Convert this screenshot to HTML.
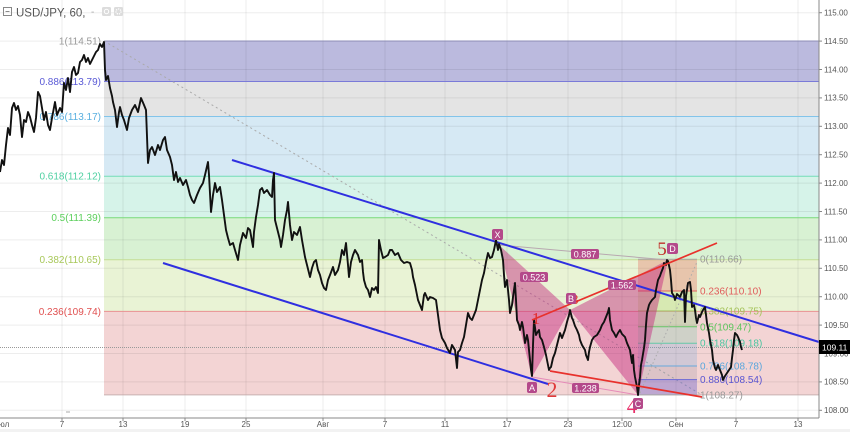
<!DOCTYPE html>
<html><head><meta charset="utf-8"><style>
html,body{margin:0;padding:0;background:#fff;}
svg{display:block;font-family:"Liberation Sans",sans-serif;}
</style></head><body>
<svg width="850" height="432" viewBox="0 0 850 432" xmlns="http://www.w3.org/2000/svg">
<rect x="0" y="0" width="850" height="432" fill="#fff"/>
<rect x="0" y="429" width="850" height="3" fill="#f2f2f2"/>
<!-- main fib bands -->
<rect x="104" y="41" width="715" height="40.5" fill="#bbbade"/>
<rect x="104" y="81.5" width="715" height="35" fill="#e4e4e4"/>
<rect x="104" y="116.5" width="715" height="59.7" fill="#d6e9f4"/>
<rect x="104" y="176.2" width="715" height="41.5" fill="#d6f3e9"/>
<rect x="104" y="217.7" width="715" height="42" fill="#d8f1d3"/>
<rect x="104" y="259.7" width="715" height="51.7" fill="#e9f3d5"/>
<rect x="104" y="311.4" width="715" height="83.5" fill="#f3d4d4"/>
<!-- grid -->
<g stroke="#000" stroke-opacity="0.07" stroke-width="1">
<line x1="62" y1="0" x2="62" y2="418"/><line x1="123" y1="0" x2="123" y2="418"/><line x1="185" y1="0" x2="185" y2="418"/><line x1="246" y1="0" x2="246" y2="418"/><line x1="323" y1="0" x2="323" y2="418"/><line x1="385" y1="0" x2="385" y2="418"/><line x1="445" y1="0" x2="445" y2="418"/><line x1="507" y1="0" x2="507" y2="418"/><line x1="568" y1="0" x2="568" y2="418"/><line x1="622" y1="0" x2="622" y2="418"/><line x1="676" y1="0" x2="676" y2="418"/><line x1="736" y1="0" x2="736" y2="418"/><line x1="798" y1="0" x2="798" y2="418"/>
<line x1="0" y1="12.7" x2="819" y2="12.7"/><line x1="0" y1="41.1" x2="819" y2="41.1"/><line x1="0" y1="69.5" x2="819" y2="69.5"/><line x1="0" y1="97.9" x2="819" y2="97.9"/><line x1="0" y1="126.3" x2="819" y2="126.3"/><line x1="0" y1="154.7" x2="819" y2="154.7"/><line x1="0" y1="183.1" x2="819" y2="183.1"/><line x1="0" y1="211.5" x2="819" y2="211.5"/><line x1="0" y1="239.9" x2="819" y2="239.9"/><line x1="0" y1="268.3" x2="819" y2="268.3"/><line x1="0" y1="296.7" x2="819" y2="296.7"/><line x1="0" y1="325.1" x2="819" y2="325.1"/><line x1="0" y1="353.5" x2="819" y2="353.5"/><line x1="0" y1="381.9" x2="819" y2="381.9"/><line x1="0" y1="410.3" x2="819" y2="410.3"/>
</g>
<!-- main fib lines -->
<g stroke-width="1">
<line x1="104" y1="41" x2="819" y2="41" stroke="#8f8fb8"/>
<line x1="104" y1="81.5" x2="819" y2="81.5" stroke="#7a7ad8"/>
<line x1="104" y1="116.5" x2="819" y2="116.5" stroke="#82c4ea"/>
<line x1="104" y1="176.2" x2="819" y2="176.2" stroke="#74dcb8"/>
<line x1="104" y1="217.7" x2="819" y2="217.7" stroke="#78da78"/>
<line x1="104" y1="259.7" x2="819" y2="259.7" stroke="#c4de94"/>
<line x1="104" y1="311.4" x2="819" y2="311.4" stroke="#e89292"/>
<line x1="104" y1="394.9" x2="819" y2="394.9" stroke="#c8b0b0"/>
</g>
<g font-size="10" text-anchor="end">
<text x="101" y="44.5" fill="#999">1(114.51)</text>
<text x="101" y="85" fill="#5a5ad6">0.886(113.79)</text>
<text x="101" y="120" fill="#5ab0e0">0.786(113.17)</text>
<text x="101" y="179.7" fill="#4fd0a2">0.618(112.12)</text>
<text x="101" y="221.2" fill="#5ccf5c">0.5(111.39)</text>
<text x="101" y="263.2" fill="#a8c85a">0.382(110.65)</text>
<text x="101" y="314.9" fill="#e05050">0.236(109.74)</text>
</g>
<!-- current price dashed -->
<line x1="0" y1="347.5" x2="819" y2="347.5" stroke="#999" stroke-width="1" stroke-dasharray="1,1"/>
<!-- diagonal dashed -->
<line x1="104" y1="41" x2="702" y2="395" stroke="#aaa" stroke-width="1" stroke-dasharray="2,3"/>
<!-- second fib box C-D -->
<rect x="638" y="259.2" width="59" height="31.8" fill="rgba(225,80,70,0.28)"/>
<rect x="638" y="291" width="59" height="19.9" fill="rgba(170,210,90,0.28)"/>
<rect x="638" y="310.9" width="59" height="15.9" fill="rgba(90,200,90,0.22)"/>
<rect x="638" y="326.8" width="59" height="16.4" fill="rgba(80,200,160,0.22)"/>
<rect x="638" y="343.2" width="59" height="22.8" fill="rgba(90,160,220,0.22)"/>
<rect x="638" y="366" width="59" height="13.6" fill="rgba(130,130,150,0.2)"/>
<rect x="638" y="379.6" width="59" height="15.3" fill="rgba(90,80,200,0.35)"/>
<g stroke-width="1">
<line x1="638" y1="259.2" x2="697" y2="259.2" stroke="#aaa"/>
<line x1="638" y1="291" x2="697" y2="291" stroke="#e06060"/>
<line x1="638" y1="310.9" x2="697" y2="310.9" stroke="#a8c870"/>
<line x1="638" y1="326.8" x2="697" y2="326.8" stroke="#66c466"/>
<line x1="638" y1="343.2" x2="697" y2="343.2" stroke="#66c8a6"/>
<line x1="638" y1="366" x2="697" y2="366" stroke="#66a8dc"/>
<line x1="638" y1="379.6" x2="697" y2="379.6" stroke="#6a66d6"/>
<line x1="638" y1="394.9" x2="697" y2="394.9" stroke="#aaa"/>
</g>
<line x1="640" y1="393" x2="697" y2="262" stroke="#aaa" stroke-width="1" stroke-dasharray="1.5,2.5"/>
<g font-size="10">
<text x="700" y="262.7" fill="#999">0(110.66)</text>
<text x="700" y="294.5" fill="#e05a5a">0.236(110.10)</text>
<text x="700" y="314.4" fill="#a5c35a">0.382(109.75)</text>
<text x="700" y="330.3" fill="#5cc55c">0.5(109.47)</text>
<text x="700" y="346.7" fill="#4cc6a0">0.618(109.18)</text>
<text x="700" y="369.5" fill="#5aa6dc">0.786(108.78)</text>
<text x="700" y="383.1" fill="#5a55d2">0.886(108.54)</text>
<text x="700" y="398.4" fill="#999">1(108.27)</text>
</g>
<!-- harmonic pattern -->
<polygon points="499,245 532,377 570,310" fill="rgba(195,40,125,0.47)"/>
<polygon points="570,310 638,395 668,260" fill="rgba(195,40,125,0.47)"/>
<line x1="499" y1="245" x2="668" y2="260" stroke="#b8a8b0" stroke-width="1"/>
<line x1="532" y1="377" x2="638" y2="395" stroke="#e58ab8" stroke-width="1"/>
<!-- blue channel -->
<line x1="232" y1="160" x2="819" y2="342" stroke="#2f2fe0" stroke-width="2"/>
<line x1="163" y1="263" x2="548" y2="384" stroke="#2f2fe0" stroke-width="2"/>
<!-- price -->
<polyline fill="none" stroke="#111" stroke-width="1.9" stroke-linejoin="round" points="0,172 2,160 4,165 6,145 8,128 10,135 12,108 14,103 16,110 18,106 20,115 22,137 24,120 26,122 28,112 30,117 32,125 34,132 36,118 38,92 40,96 42,108 44,120 46,112 48,125 50,130 52,118 55,102 57,115 60,108 62,112 64,83 66,90 68,78 70,92 72,72 74,67 76,75 78,73 80,62 82,60 84,55 86,62 88,58 90,64 92,60 94,56 96,52 98,50 100,44 102,47 104,42 105,70 106,80 108,76 110,88 112,96 113,102 115,110 117,127 119,112 120,107 122,115 124,120 127,130 129,118 132,110 135,105 138,112 141,98 144,105 146,110 148,163 150,150 152,147 155,155 158,145 160,150 163,140 165,137 167,150 170,157 172,165 174,180 176,172 178,182 180,178 183,185 186,180 188,187 190,195 192,200 194,203 197,195 200,188 203,183 205,175 208,162 209,175 211,212 213,195 215,183 217,192 220,187 222,200 224,215 226,230 228,238 230,245 233,243 235,250 238,260 240,245 243,233 246,238 248,228 250,230 253,247 254,232 256,217 258,205 260,190 262,188 264,193 267,190 270,195 272,197 273,180 274,173 275,220 277,228 278,232 280,240 281,247 283,235 285,220 287,210 288,202 290,225 292,240 294,232 297,235 300,227 302,240 305,257 307,265 310,277 312,268 314,262 316,260 318,270 320,275 322,283 324,288 326,290 328,280 330,275 333,267 335,275 338,270 340,262 342,250 344,255 346,243 348,265 349,277 351,262 353,255 355,250 358,255 360,262 362,260 363,272 364,280 366,287 368,290 370,297 372,288 374,290 376,287 378,293 379,240 381,250 383,258 385,257 388,255 390,250 392,250 395,255 398,253 401,260 404,263 407,262 410,263 412,270 413,277 415,285 418,300 420,305 422,310 424,295 425,293 428,300 430,297 433,298 436,300 438,315 440,330 442,338 445,343 447,348 450,353 452,345 455,350 457,368 458,352 460,350 462,343 464,337 466,325 468,313 470,318 472,320 474,315 476,310 478,300 480,290 482,280 484,273 486,262 488,253 490,258 492,257 494,250 496,240 498,250 499,244 501,250 503,260 504,275 505,287 507,280 509,300 510,313 512,305 513,297 515,283 516,300 517,320 519,325 520,330 522,322 523,327 525,343 527,335 528,340 530,360 531,370 532,376 533,345 534,320 536,335 537,333 539,330 540,337 542,340 544,347 546,355 547,360 549,370 550,368 551,367 553,358 555,353 557,345 560,333 562,338 565,330 567,322 569,315 570,310 572,318 573,320 575,326 577,330 579,335 580,340 582,345 585,350 586,355 588,360 589,352 590,347 592,340 594,337 597,335 600,330 602,325 604,322 606,317 608,312 609,308 610,320 612,330 614,333 616,337 618,333 620,330 622,334 625,337 627,343 630,350 632,363 633,355 634,370 635,377 637,387 638,395 639,385 640,377 641,365 642,360 644,348 645,340 646,325 647,313 649,305 650,303 652,300 655,297 656,290 658,280 660,276 661,273 663,268 664,263 666,265 667,260 668,261 670,270 671,280 672,293 674,296 675,300 677,294 680,297 682,292 684,290 685,322 686,296 688,283 690,282 691,290 692,307 694,305 695,310 696,318 697,323 699,315 700,317 702,312 703,310 705,307 706,315 707,323 709,333 710,340 712,350 713,360 715,368 716,370 718,365 720,370 722,375 723,380 725,376 727,373 729,370 731,367 732,358 733,350 734,340 735,333 737,335 738,337 740,342 741,347 742,350"/>
<!-- red lines -->
<line x1="532" y1="320" x2="717" y2="243" stroke="#e8312c" stroke-width="1.7"/>
<line x1="550" y1="371" x2="702" y2="397" stroke="#e8312c" stroke-width="1.7"/>
<!-- wave numbers -->
<g font-family="'Liberation Serif',serif" text-anchor="middle">
<text x="536" y="324" font-size="17" fill="#e03030">1</text>
<text x="552" y="397" font-size="22" fill="#e03a3a">2</text>
<text x="575" y="304" font-size="14" fill="#e03030">3</text>
<text x="632" y="413" font-size="21" fill="#e8306a">4</text>
<text x="662" y="255" font-size="19" fill="#c0302a">5</text>
</g>
<!-- pattern labels -->
<g fill="#b4498a">
<rect x="492" y="229" width="11" height="11" rx="2"/>
<rect x="527" y="382" width="10" height="11" rx="2"/>
<rect x="566" y="293" width="10" height="11" rx="2"/>
<rect x="633" y="398" width="10" height="11" rx="2"/>
<rect x="667" y="243" width="11" height="11" rx="2"/>
<rect x="571" y="249" width="28" height="10" rx="2"/>
<rect x="520" y="272" width="28" height="10" rx="2"/>
<rect x="608" y="280" width="28" height="10" rx="2"/>
<rect x="572" y="383" width="27" height="10" rx="2"/>
</g>
<g fill="#fff" font-size="9" text-anchor="middle">
<text x="497.5" y="238">X</text>
<text x="532" y="391">A</text>
<text x="571" y="302">B</text>
<text x="638" y="407">C</text>
<text x="672.5" y="252">D</text>
<text x="585" y="257.5">0.887</text>
<text x="534" y="280.5">0.523</text>
<text x="622" y="288.5">1.562</text>
<text x="585.5" y="391.5">1.238</text>
</g>
<!-- axes -->
<line x1="819" y1="0" x2="819" y2="418" stroke="#888" stroke-width="1"/>
<line x1="0" y1="418" x2="819" y2="418" stroke="#888" stroke-width="1"/>
<g stroke="#888" stroke-width="1">
<line x1="819" y1="12.7" x2="822" y2="12.7"/><line x1="819" y1="41.1" x2="822" y2="41.1"/><line x1="819" y1="69.5" x2="822" y2="69.5"/><line x1="819" y1="97.9" x2="822" y2="97.9"/><line x1="819" y1="126.3" x2="822" y2="126.3"/><line x1="819" y1="154.7" x2="822" y2="154.7"/><line x1="819" y1="183.1" x2="822" y2="183.1"/><line x1="819" y1="211.5" x2="822" y2="211.5"/><line x1="819" y1="239.9" x2="822" y2="239.9"/><line x1="819" y1="268.3" x2="822" y2="268.3"/><line x1="819" y1="296.7" x2="822" y2="296.7"/><line x1="819" y1="325.1" x2="822" y2="325.1"/><line x1="819" y1="353.5" x2="822" y2="353.5"/><line x1="819" y1="381.9" x2="822" y2="381.9"/><line x1="819" y1="410.3" x2="822" y2="410.3"/>
<line x1="62" y1="418" x2="62" y2="421"/><line x1="123" y1="418" x2="123" y2="421"/><line x1="185" y1="418" x2="185" y2="421"/><line x1="246" y1="418" x2="246" y2="421"/><line x1="323" y1="418" x2="323" y2="421"/><line x1="385" y1="418" x2="385" y2="421"/><line x1="445" y1="418" x2="445" y2="421"/><line x1="507" y1="418" x2="507" y2="421"/><line x1="568" y1="418" x2="568" y2="421"/><line x1="622" y1="418" x2="622" y2="421"/><line x1="676" y1="418" x2="676" y2="421"/><line x1="736" y1="418" x2="736" y2="421"/><line x1="798" y1="418" x2="798" y2="421"/>
</g>
<g font-size="8" fill="#555">
<text x="824" y="15.5">115.00</text><text x="824" y="43.9">114.50</text><text x="824" y="72.3">114.00</text><text x="824" y="100.7">113.50</text><text x="824" y="129.1">113.00</text><text x="824" y="157.5">112.50</text><text x="824" y="185.9">112.00</text><text x="824" y="214.3">111.50</text><text x="824" y="242.7">111.00</text><text x="824" y="271.1">110.50</text><text x="824" y="299.5">110.00</text><text x="824" y="327.9">109.50</text><text x="824" y="356.3">109.00</text><text x="824" y="384.7">108.50</text><text x="824" y="413.1">108.00</text>
</g>
<g font-size="8" fill="#555" text-anchor="middle">
<text x="4" y="427">юл</text><text x="62" y="427">7</text><text x="123" y="427">13</text><text x="185" y="427">19</text><text x="246" y="427">25</text><text x="323" y="427">Авг</text><text x="385" y="427">7</text><text x="445" y="427">11</text><text x="507" y="427">17</text><text x="568" y="427">23</text><text x="622" y="427">12:00</text><text x="676" y="427">Сен</text><text x="736" y="427">7</text><text x="798" y="427">13</text>
</g>
<rect x="819" y="340" width="31" height="14" fill="#000"/>
<text x="822" y="350.5" font-size="8.5" fill="#fff">109.11</text>
<line x1="66" y1="412" x2="70" y2="412" stroke="#aaa" stroke-width="1"/>
<!-- header -->
<rect x="3.5" y="7.5" width="8" height="8" fill="none" stroke="#888" stroke-width="1"/>
<line x1="5.5" y1="11.5" x2="9.5" y2="11.5" stroke="#888" stroke-width="1"/>
<text x="16" y="16.5" font-size="11.5" fill="#555">USD/JPY, 60,</text>
<text x="91" y="15" font-size="10" fill="#aaa">-</text>
<rect x="102" y="7" width="9" height="9" rx="1.5" fill="#dcdcdc"/>
<circle cx="106.5" cy="11.5" r="2.2" fill="none" stroke="#fff" stroke-width="1"/>
<rect x="114" y="7" width="9" height="9" rx="1.5" fill="#dcdcdc"/>
<circle cx="118.5" cy="11.5" r="2.5" fill="none" stroke="#fff" stroke-width="1.3" stroke-dasharray="1.2,1"/>
</svg>
</body></html>
